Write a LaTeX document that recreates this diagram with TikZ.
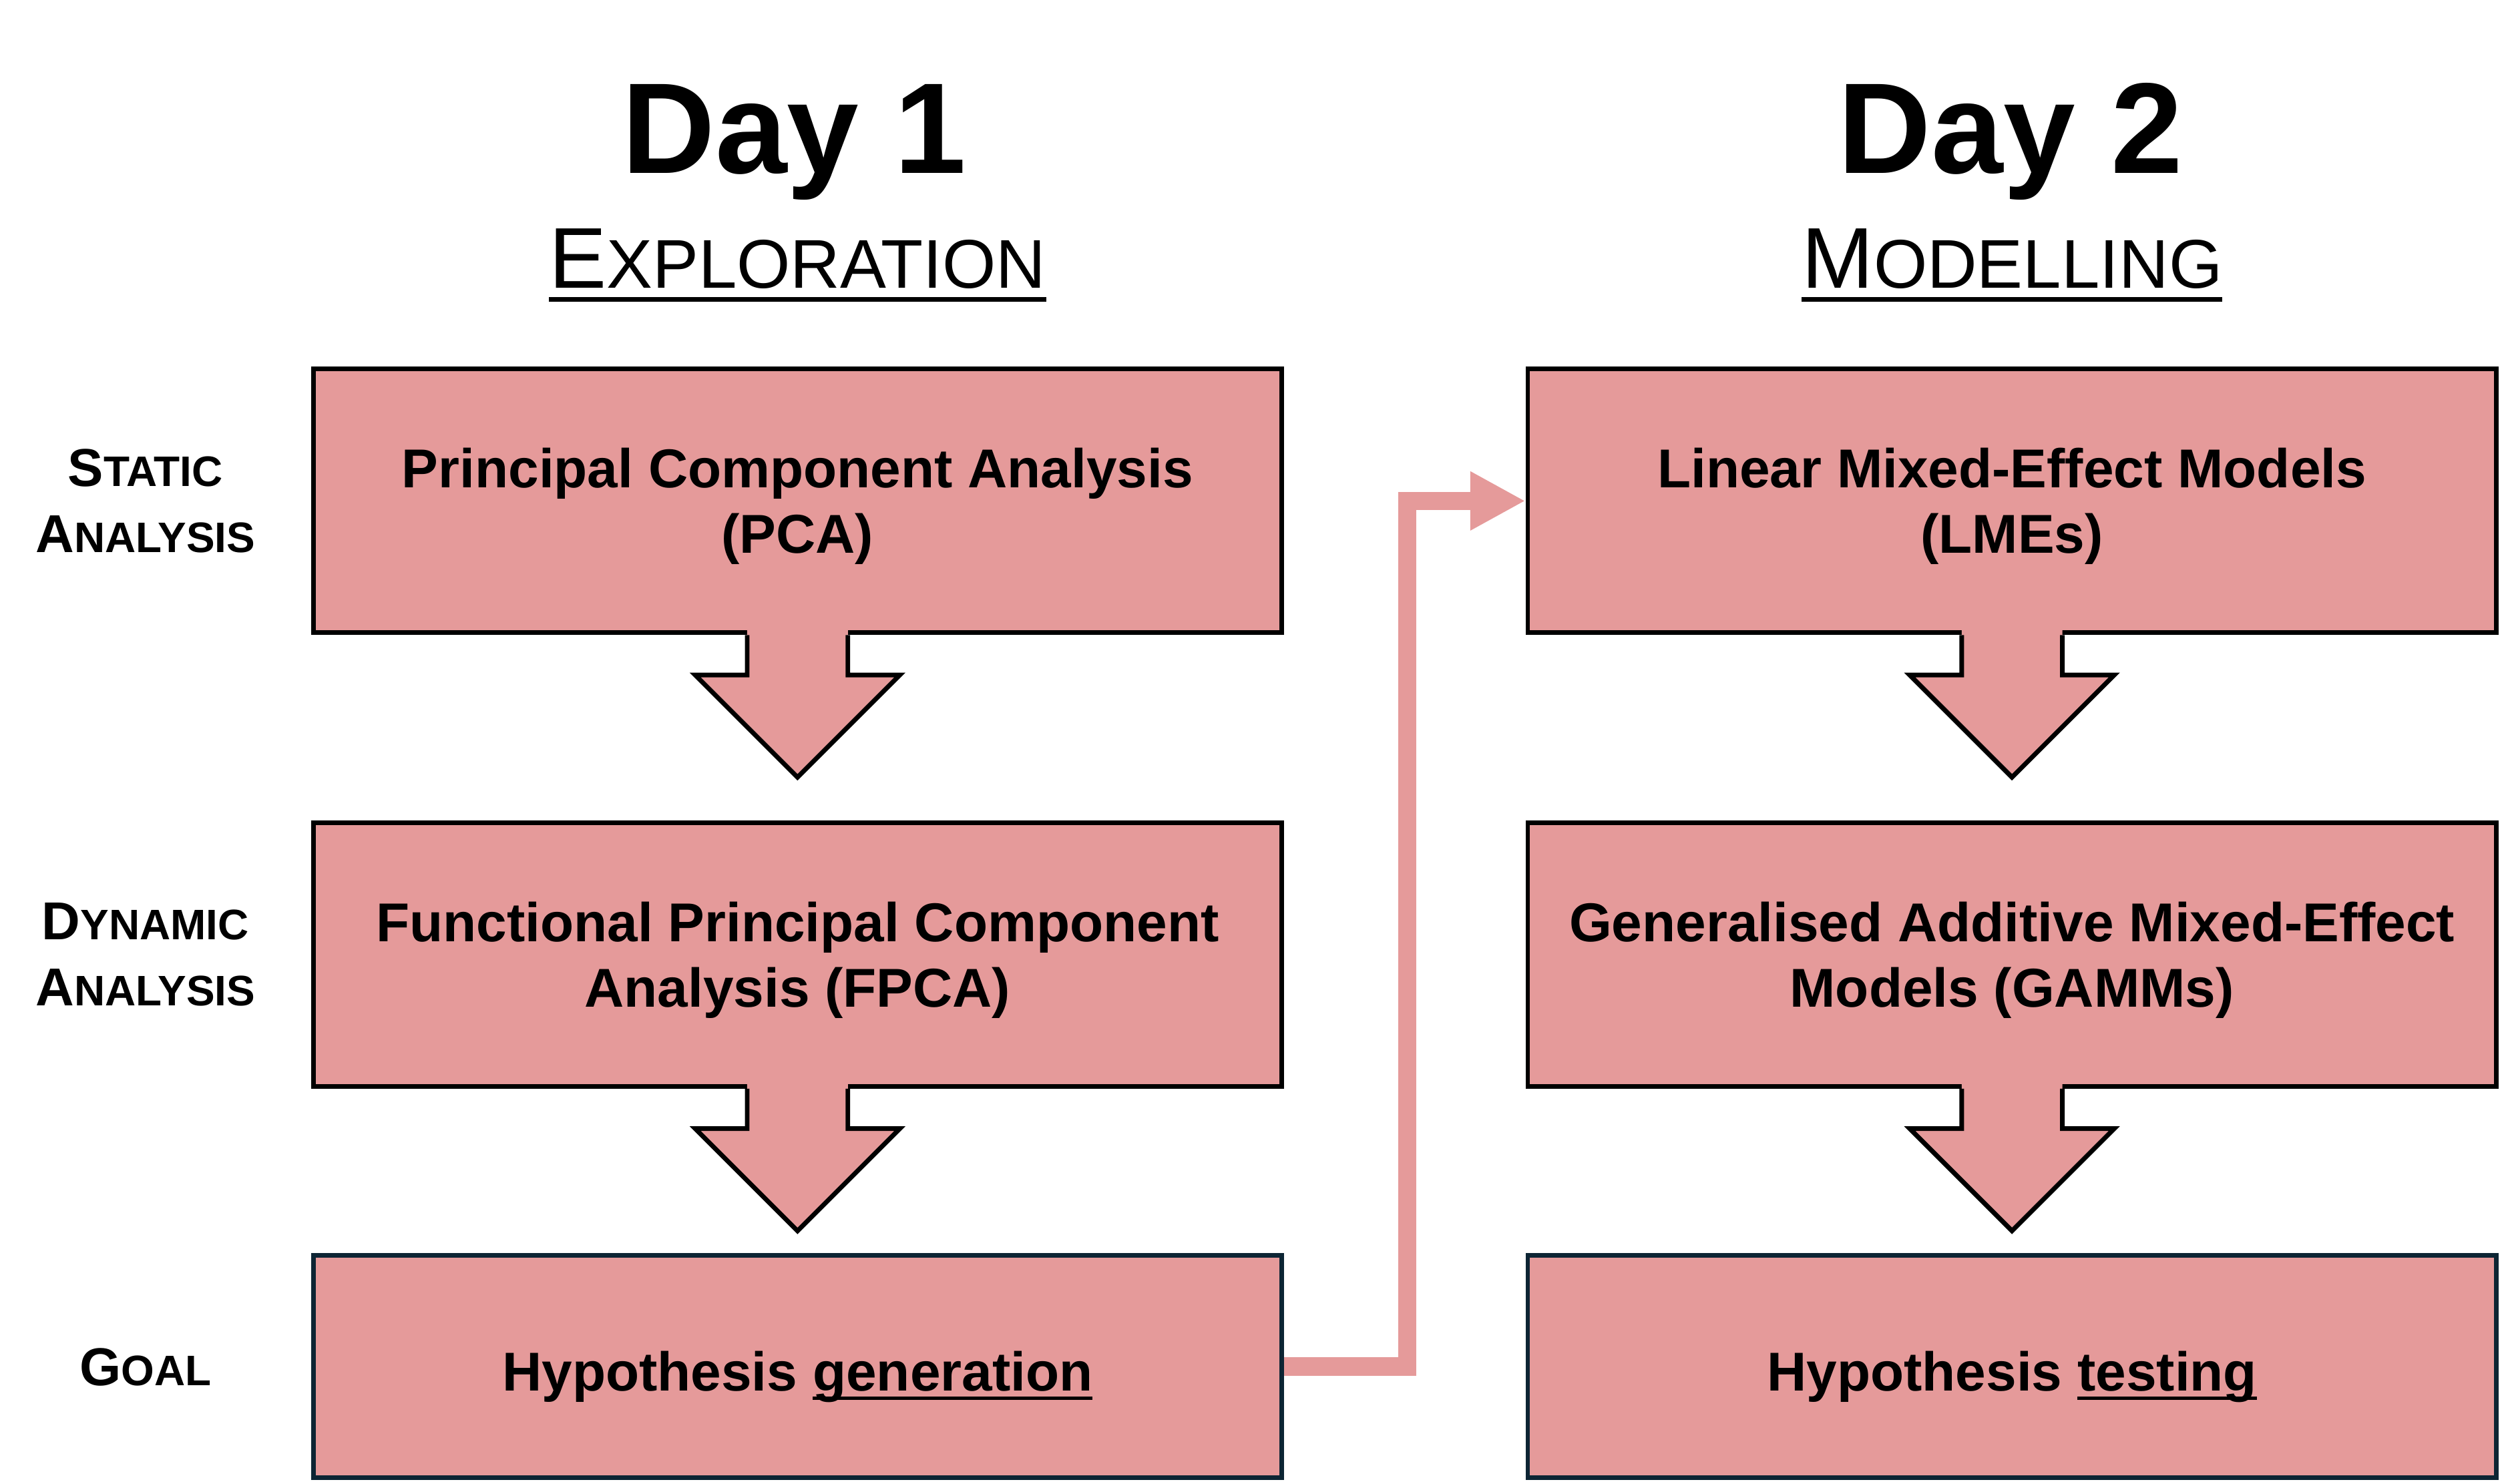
\documentclass[tikz,border=0pt]{standalone}
\usepackage{fontspec}
\setmainfont{Liberation Sans}
\usepackage{tikz}
\usetikzlibrary{arrows.meta, positioning, calc}

\definecolor{boxpink}{HTML}{E59A9A}
\definecolor{navyline}{HTML}{0D2534}

% fake small caps: first letter full size, rest scaled
\newcommand{\scword}[2]{#1\scalebox{0.8}{#2}}
% underline: depth, thickness, text
\newcommand{\lineunder}[3]{{\setbox0\hbox{#3}\leavevmode\rlap{\rule[-#1]{\wd0}{#2}}\box0}}
\newcommand{\titleul}[1]{\lineunder{4.9pt}{1.7pt}{#1}}
\newcommand{\boxul}[1]{\lineunder{3.2pt}{1.2pt}{#1}}
% block arrow hanging below a box
\newcommand{\downblock}[1]{%
  \fill[boxpink] ($(#1.south)+(-0.63,0.06)$) -- ++(0,-0.56) -- ++(-0.65,0) -- ++(1.28,-1.28) -- ++(1.28,1.28) -- ++(-0.65,0) -- ++(0,0.56) -- cycle;
  \draw[line width=0.058cm, line join=miter] ($(#1.south)+(-0.63,0)$) -- ++(0,-0.5) -- ++(-0.65,0) -- ++(1.28,-1.28) -- ++(1.28,1.28) -- ++(-0.65,0) -- ++(0,0.5);
}

\begin{document}
\begin{tikzpicture}[>=Triangle]
            \tikzstyle{stepbox} = [draw, rectangle, line width=0.058cm, fill=boxpink, minimum width=12.12cm, minimum height=3.3cm, align=center, font=\fontsize{19.5pt}{23.3pt}\selectfont\bfseries, text height=42.2pt, text depth=5pt]
            \tikzstyle{goalbox} = [stepbox, draw=navyline, minimum height=2.78cm, text height=22.4pt, text depth=5pt]
            \tikzstyle{rowlabel} = [align=center, font=\fontsize{19pt}{23.5pt}\selectfont\bfseries]
            \tikzstyle{daytitle} = [anchor=base, font=\fontsize{46pt}{50pt}\selectfont\bfseries]
            \tikzstyle{daytopic} = [anchor=base, inner sep=0pt, font=\fontsize{30.7pt}{34pt}\selectfont]
            \tikzstyle{flow} = [draw=boxpink, line width=0.23cm, line join=miter, -{Triangle[length=0.69cm, width=0.69cm]}]

            \useasboundingbox (0,0) rectangle (31.36,18.568);

            % day 1
            \node[stepbox] (pca) at (9.98,12.298) {Principal Component Analysis\\(PCA)};
            \node[stepbox, below=2.32cm of pca] (fpca) {Functional Principal Component\\Analysis (FPCA)};
            \node[goalbox, below=2.06cm of fpca] (hypgen) {Hypothesis \boxul{generation}};

            % day 2
            \node[stepbox, right=3.02cm of pca] (lme) {Linear Mixed-Effect Models\\(LMEs)};
            \node[stepbox, below=2.32cm of lme] (gamm) {Generalised Additive Mixed-Effect\\Models (GAMMs)};
            \node[goalbox, below=2.06cm of gamm] (hyptest) {Hypothesis \boxul{testing}};

            \downblock{pca}
            \downblock{fpca}
            \downblock{lme}
            \downblock{gamm}

            \draw[flow] (hypgen.east) -- ++(1.54,0) |- (lme.west);

            % headings
            \node[daytitle] (day1) at (9.94,16.40) {Day 1};
            \node[daytopic] (explo) at (9.98,14.96) {\titleul{\scword{E}{XPLORATION}}};
            \node[daytitle] (day2) at (25.16,16.40) {Day 2};
            \node[daytopic] (model) at (25.18,14.96) {\titleul{\scword{M}{ODELLING}}};

            % row labels
            \node[rowlabel] (static) at (1.82,12.298) {\scword{S}{TATIC}\\\scword{A}{NALYSIS}};
            \node[rowlabel] (dynamic) at (1.82,6.618) {\scword{D}{YNAMIC}\\\scword{A}{NALYSIS}};
            \node[rowlabel] (goal) at (1.82,1.458) {\scword{G}{OAL}};
        \end{tikzpicture}
\end{document}
